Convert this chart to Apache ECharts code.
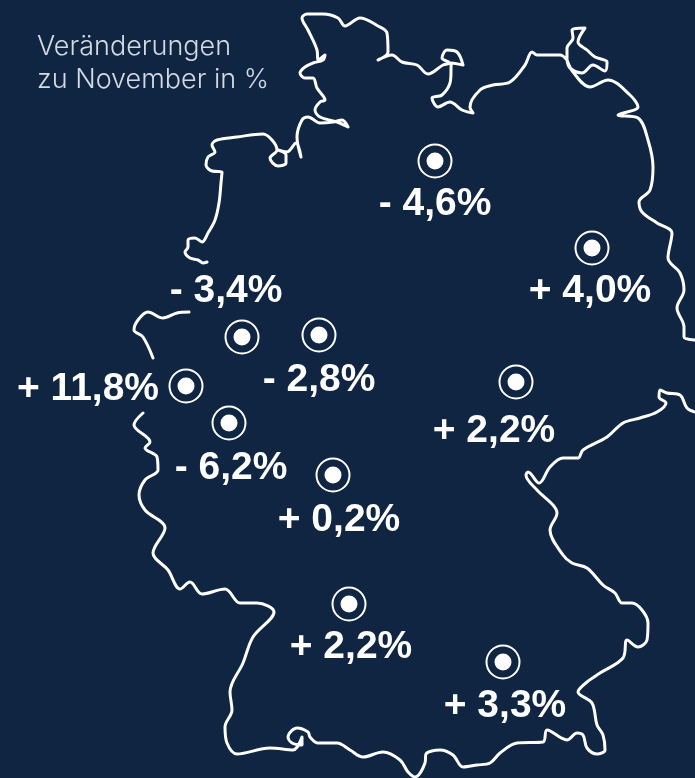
<!DOCTYPE html>
<html>
<head>
<meta charset="utf-8">
<style>html,body{margin:0;padding:0;background:#0f2542}#chart{width:695px;height:778px}</style>
<script src="https://cdn.jsdelivr.net/npm/echarts@6/dist/echarts.min.js"></script>
</head>
<body>
<div id="chart"></div>
<script>
// border pieces, x/y in picture units
var borderMain = [[207,262],[203,263],[198,260],[190,258],[185,252],[188,247],[188,240],[195,238],[202,242],[208,233],[215,220],[219,203],[221,183],[222,172],[212,171],[206,165],[208,157],[215,152],[212,145],[217,140],[237,137],[263,134],[272,140],[277,150],[270,158],[278,166],[286,163],[286,155],[278,150],[287,152],[296,143],[301,157],[297,137],[302,120],[308,117],[320,123],[333,122],[342,120],[348,127],[337,122],[320,117],[315,110],[320,102],[325,100],[317,88],[313,78],[305,78],[300,73],[305,67],[313,63],[323,60],[325,55],[318,60],[317,50],[308,30],[302,18],[307,14],[323,14],[338,18],[345,26],[360,18],[378,26],[387,33],[388,52],[378,60],[392,55],[402,62],[417,65],[428,74],[443,65],[450,63],[442,58],[447,50],[457,52],[463,65],[452,63],[450,83],[442,95],[432,98],[438,107],[450,102],[462,110],[473,113],[470,107],[480,90],[493,85],[510,82],[525,65],[532,52],[537,55],[560,55],[567,60],[567,48],[573,38],[572,30],[585,28],[578,42],[587,50],[595,57],[607,62],[605,71],[593,65],[582,73],[570,68],[567,60],[573,72],[590,87],[608,80],[630,95],[638,107],[618,115],[638,118],[648,140],[653,167],[650,190],[639,202],[642,212],[657,223],[672,233],[668,258],[680,273],[684,290],[677,308],[684,327],[684,337],[695,340]];
var borderSouth = [[695,412],[687,408],[680,395],[667,393],[660,390],[659,397],[666,403],[657,412],[640,418],[623,423],[607,437],[583,450],[578,458],[563,458],[550,467],[539,483],[528,472],[526,475],[537,490],[553,505],[557,513],[550,530],[563,555],[572,563],[587,568],[603,585],[615,593],[622,603],[632,603],[642,610],[648,623],[647,640],[638,647],[627,640],[623,658],[600,673],[587,682],[578,692],[592,703],[597,725],[603,735],[605,750],[597,754],[587,748],[583,735],[577,733],[567,740],[547,730],[543,742],[517,743],[500,753],[490,763],[477,765],[463,767],[453,755],[440,750],[426,754],[425,763],[415,777],[408,772],[400,760],[383,752],[363,757],[350,750],[337,743],[318,743],[310,737],[308,732],[297,728],[288,737],[292,743],[302,745],[302,737],[293,750],[270,748],[237,754],[227,743],[225,727],[232,710],[230,692],[243,663],[253,637],[274,612],[257,603],[240,603],[225,589],[202,594],[190,582],[180,589],[168,570],[153,553],[165,528],[145,510],[139,495],[145,480],[158,470],[157,457],[145,448],[150,442],[134,425],[143,413]];
var borderWest = [[153,358],[143,337],[134,330],[138,320],[148,312],[163,318],[177,313],[189,312]];

var spots = [[435,161],[592,248],[242,337],[319,335],[186,386],[229,423],[333,475],[516,382],[349,604],[503,662]];
var valueLabels = ['- 4,6%','+ 4,0%','- 3,4%','- 2,8%','+ 11,8%','- 6,2%','+ 0,2%','+ 2,2%','+ 2,2%','+ 3,3%'];
var labelSpots = [[435,204],[590,291],[226,291],[319,380],[88,389],[231,468],[339,520],[494,431],[351,647],[505,706]];

var myChart = echarts.init(document.getElementById('chart'));

function borderSeries(data) {
    return {
        type: 'line',
        data: data,
        symbol: 'none',
        smooth: 0.35,
        silent: true,
        clip: false,
        lineStyle: {color: '#ffffff', width: 3, join: 'round', cap: 'round'}
    };
}

var option = {
    backgroundColor: '#0f2542',
    animation: false,
    title: {
        text: 'Veränderungen\nzu November in %',
        left: 32,
        top: 25,
        textStyle: {
            color: '#d3dae3',
            fontFamily: 'Inter',
            fontSize: 27,
            fontWeight: 300,
            lineHeight: 33
        }
    },
    grid: {left: 0, right: 0, top: 0, bottom: 0},
    xAxis: {type: 'value', min: 0, max: 695, show: false},
    yAxis: {type: 'value', min: 0, max: 778, inverse: true, show: false},
    series: [
        borderSeries(borderMain),
        borderSeries(borderSouth),
        borderSeries(borderWest),
        {
            // outer ring
            type: 'scatter',
            data: spots,
            symbolSize: 33,
            silent: true,
            itemStyle: {color: 'transparent', borderColor: '#ffffff', borderWidth: 2, opacity: 1}
        },
        {
            // inner dot
            type: 'scatter',
            data: spots,
            symbolSize: 17,
            silent: true,
            itemStyle: {color: '#ffffff', opacity: 1}
        },
        {
            // value labels
            type: 'scatter',
            data: labelSpots,
            symbolSize: 0,
            silent: true,
            itemStyle: {opacity: 1},
            label: {
                show: true,
                position: 'inside',
                formatter: function (p) { return valueLabels[p.dataIndex]; },
                color: '#ffffff',
                fontFamily: 'Liberation Sans',
                fontSize: 39,
                fontWeight: 700
            }
        }
    ]
};
myChart.setOption(option);
</script>
</body>
</html>
